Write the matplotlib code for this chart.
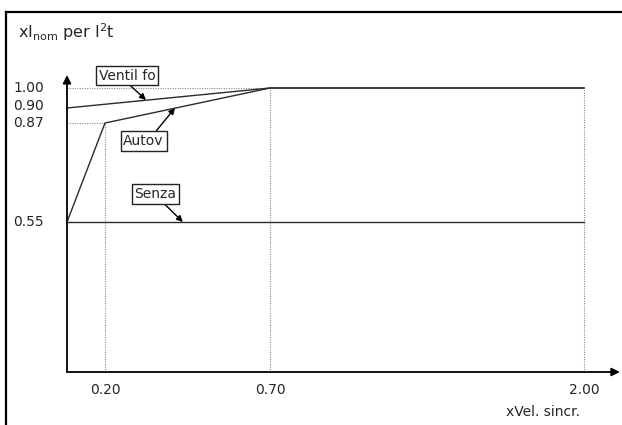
import numpy as np
import matplotlib
matplotlib.use("Agg")
import matplotlib.pyplot as plt
from matplotlib.lines import Line2D
from matplotlib import transforms

# ---- data ----
x_ticks = [0.20, 0.70, 2.00]
y_ticks = [1.00, 0.90, 0.87, 0.55]
ventil_x = [0.0, 0.70, 2.00]
ventil_y = [0.90, 1.00, 1.00]
autov_x = [0.0, 0.20, 0.70, 2.00]
autov_y = [0.55, 0.87, 1.00, 1.00]
senza_x = [0.0, 2.00]
senza_y = [0.55, 0.55]
labels = ["Ventil fo", "Autov", "Senza"]
title = r"xI$_{\mathrm{nom}}$ per I$^{2}$t"
xlabel = "xVel. sincr."

# ---- schematic (non-uniform) scales ----
W, H = 622, 425
XV = [-0.6, 0.0, 0.2, 0.7, 2.0, 2.5]
XP = [-47.0, 67.0, 105.0, 270.0, 584.0, 704.5]
YV = [-0.5, 0.0, 0.55, 0.87, 0.90, 1.00, 1.5]
YP = [H - v for v in [508.0, 372.0, 222.0, 123.0, 108.0, 88.0, -12.0]]

fx = lambda v: np.interp(v, XV, XP)
ix = lambda p: np.interp(p, XP, XV)
fy = lambda v: np.interp(v, YV, YP)
iy = lambda p: np.interp(p, YP, YV)

plt.rcParams['font.family'] = ['DejaVu Sans']
fig = plt.figure(figsize=(W / 100, H / 100), dpi=100)
ax = fig.add_axes([0, 0, 1, 1])
ax.set_xscale('function', functions=(fx, ix))
ax.set_yscale('function', functions=(fy, iy))
ax.set_xlim(float(ix(0)), float(ix(W)))
ax.set_ylim(float(iy(0)), float(iy(H)))
ax.axis('off')

line_c = '#2a2a2a'
dot_c = '#8a8a8a'
txt_c = '#262626'
fs = 10

# dotted reference lines
for xt in x_ticks:
    top = float(np.interp(xt, autov_x, autov_y))
    ax.plot([xt, xt], [0, top], color=dot_c, lw=0.8, ls=(0, (1, 1.2)))
ax.plot([0, 0.70], [1.00, 1.00], color=dot_c, lw=0.8, ls=(0, (1, 1.2)))
ax.plot([0, 0.20], [0.87, 0.87], color=dot_c, lw=0.8, ls=(0, (1, 1.2)))

# curves
ax.plot(ventil_x, ventil_y, color=line_c, lw=1.0)
ax.plot(autov_x, autov_y, color=line_c, lw=1.0)
ax.plot(senza_x, senza_y, color=line_c, lw=1.0)

# axes with arrows
ap_axis = dict(arrowstyle='-|>', lw=1.3, color='black', shrinkA=0, shrinkB=0,
               mutation_scale=12)
ax.annotate('', xy=(0, 1.065), xytext=(0, 0), arrowprops=ap_axis)
ax.annotate('', xy=(2.149, 0), xytext=(0, 0), arrowprops=ap_axis)

# tick labels
y_off = {0.90: 2}
for v in y_ticks:
    ty = transforms.offset_copy(ax.transData, fig=fig, x=-23,
                                y=y_off.get(v, 0), units='dots')
    ax.text(0, v, f"{v:.2f}", transform=ty, ha='right', va='center',
            fontsize=fs, color=txt_c)
tx = transforms.offset_copy(ax.transData, fig=fig, x=0, y=-18, units='dots')
for v in x_ticks:
    ax.text(v, 0, f"{v:.2f}", transform=tx, ha='center', va='center',
            fontsize=fs, color=txt_c)
txl = transforms.offset_copy(ax.transData, fig=fig, x=-4, y=-40, units='dots')
ax.text(2.0, 0, xlabel, transform=txl, ha='right', va='center',
        fontsize=fs, color=txt_c)

# labelled annotations
box = dict(boxstyle='square,pad=0.2', fc='white', ec='#222222', lw=1.0)
def ann(text, xy, xytext, rel):
    ax.annotate(text, xy=xy, xytext=xytext, ha='center', va='center',
                fontsize=fs, color=txt_c, bbox=box,
                arrowprops=dict(arrowstyle='-|>', lw=1.0, color='black',
                                shrinkA=0, shrinkB=0, mutation_scale=9,
                                relpos=rel))

ann(labels[0], (0.324, 0.94), (0.267, 1.0625), (0.5, 0.0))
ann(labels[1], (0.412, 0.90), (0.317, 0.812), (0.75, 1.0))
ann(labels[2], (0.436, 0.55), (0.353, 0.6406), (0.64, 0.0))

# title
fig.text(18 / W, 1 - 38 / H, title, ha='left', va='baseline',
         fontsize=11.5, color=txt_c)

# partial frame (left and top border)
fig.add_artist(Line2D([5.5 / W, 5.5 / W], [0, 1 - 12 / H], color='black',
                      lw=1.6, transform=fig.transFigure))
fig.add_artist(Line2D([5.5 / W, 1], [1 - 12 / H, 1 - 12 / H], color='black',
                      lw=1.6, transform=fig.transFigure))

fig.savefig("out.png", dpi=100)
